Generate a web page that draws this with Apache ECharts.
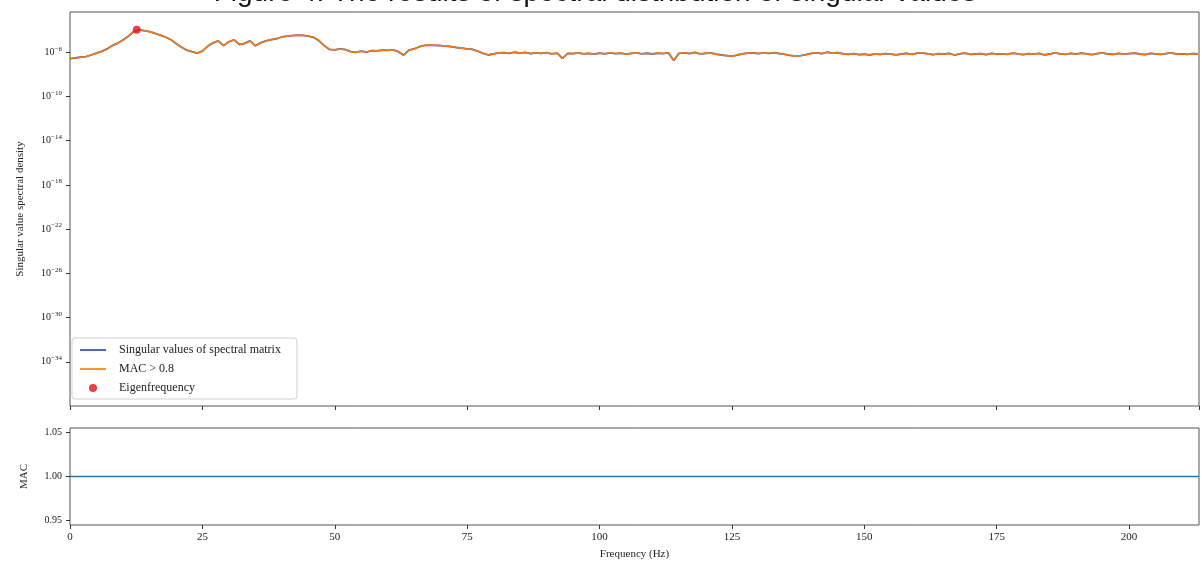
<!DOCTYPE html>
<html>
<head>
<meta charset="utf-8">
<script src="https://cdn.jsdelivr.net/npm/echarts@6/dist/echarts.min.js"></script>
<style>
  html, body { margin: 0; padding: 0; background: #fff; }
  #chart { width: 1202px; height: 566px; }
</style>
</head>
<body>
<div id="chart"></div>
<script>
// Frequency bins (Hz), 1 Hz spacing
const freqHz = [];
for (let f = 0; f <= 213; f++) freqHz.push(f);

// First singular value of the spectral matrix, as log10 exponents
const svLog10 = [
  -6.57, -6.52, -6.45, -6.39, -6.25, -6.08, -5.92, -5.70, -5.40, -5.18,
  -4.90, -4.55, -4.15, -3.98, -4.05, -4.14, -4.28, -4.45, -4.62, -4.85,
  -5.20, -5.52, -5.80, -5.95, -6.08, -5.90, -5.45, -5.15, -4.98, -5.40,
  -5.05, -4.88, -5.30, -5.20, -4.97, -5.42, -5.15, -4.98, -4.85, -4.78,
  -4.62, -4.55, -4.50, -4.45, -4.47, -4.55, -4.65, -4.95, -5.40, -5.75,
  -5.78, -5.70, -5.76, -5.95, -6.02, -5.90, -5.98, -5.85, -5.88, -5.80,
  -5.84, -5.79, -5.95, -6.27, -5.80, -5.70, -5.50, -5.38, -5.35, -5.37,
  -5.40, -5.45, -5.50, -5.57, -5.63, -5.70, -5.75, -5.90, -6.10, -6.25,
  -6.15, -6.05, -6.03, -6.10, -6.00, -6.08, -6.02, -6.12, -6.05, -6.10,
  -6.04, -6.15, -6.08, -6.55, -6.10, -6.12, -6.06, -6.15, -6.10, -6.18,
  -6.08, -6.14, -6.05, -6.12, -6.08, -6.18, -6.10, -6.06, -6.14, -6.09,
  -6.16, -6.08, -6.12, -6.05, -6.75, -6.10, -6.05, -6.12, -6.02, -6.15,
  -6.10, -6.06, -6.18, -6.25, -6.30, -6.38, -6.25, -6.15, -6.08, -6.05,
  -6.12, -6.06, -6.10, -6.04, -6.12, -6.20, -6.28, -6.35, -6.30, -6.22,
  -6.10, -6.05, -6.12, -6.00, -6.08, -6.03, -6.15, -6.20, -6.12, -6.22,
  -6.18, -6.25, -6.15, -6.20, -6.12, -6.18, -6.24, -6.16, -6.10, -6.20,
  -6.08, -6.05, -6.15, -6.22, -6.12, -6.18, -6.10, -6.25, -6.14, -6.08,
  -6.20, -6.16, -6.12, -6.22, -6.10, -6.18, -6.14, -6.20, -6.08, -6.15,
  -6.22, -6.12, -6.18, -6.10, -6.24, -6.16, -6.06, -6.14, -6.20, -6.10,
  -6.18, -6.08, -6.15, -6.22, -6.12, -6.06, -6.16, -6.20, -6.10, -6.18,
  -6.12, -6.08, -6.16, -6.22, -6.10, -6.14, -6.20, -6.12, -6.06, -6.18,
  -6.14, -6.20, -6.12, -6.15
];

// Picked eigenfrequency (Hz) and its spectral value exponent
const eigFreqHz = [12.6];
const eigLog10 = [-3.97];

// Modal assurance criterion along the frequency range
const macFreqHz = [0, 213.2];
const macValues = [1.0, 1.0];

// Axis ticks
const freqTicks = [0, 25, 50, 75, 100, 125, 150, 175, 200];
const densityExpTicks = [-34, -30, -26, -22, -18, -14, -10, -6];
const macTicks = [0.95, 1.00, 1.05];

const titleText = 'Figure 4: The results of spectral distribution of singular values';

// The density axis is logarithmic: values are placed by their decade exponent
const svData = freqHz.map((f, i) => [f, svLog10[i]]);
const eigData = eigFreqHz.map((f, i) => [f, eigLog10[i]]);
const macData = macFreqHz.map((f, i) => [f, macValues[i]]);

const serif = '"Liberation Serif", "DejaVu Serif", serif';
const axisColor = '#333';
const lineIcon = 'path://M0,0L30,0L30,2L0,2Z';

const chart = echarts.init(document.getElementById('chart'), null, { renderer: 'canvas' });

chart.setOption({
  animation: false,
  backgroundColor: '#fff',
  graphic: [{
    type: 'text',
    style: {
      x: 595, y: 7,
      text: titleText,
      align: 'center',
      verticalAlign: 'bottom',
      font: '28px "Liberation Sans", Arial, sans-serif',
      fill: '#111'
    },
    z: 100
  }],
  grid: [
    { left: 70, right: 3, top: 12, height: 394, show: true, borderColor: '#555', borderWidth: 1 },
    { left: 70, right: 3, top: 428, height: 97, show: true, borderColor: '#555', borderWidth: 1 }
  ],
  legend: {
    orient: 'vertical',
    left: 72,
    top: 338,
    itemWidth: 26,
    itemHeight: 8,
    itemGap: 7,
    padding: [6, 16, 5, 8],
    backgroundColor: '#fff',
    borderColor: '#d0d0d0',
    borderWidth: 1,
    borderRadius: 3,
    textStyle: { fontFamily: serif, fontSize: 12, color: '#222', padding: [0, 0, 0, 8] },
    data: [
      { name: 'Singular values of spectral matrix', icon: lineIcon },
      { name: 'MAC > 0.8', icon: lineIcon },
      { name: 'Eigenfrequency', icon: 'circle' }
    ]
  },
  xAxis: [
    {
      gridIndex: 0, type: 'value', min: 0, max: 213.2, interval: 25,
      axisLine: { show: false },
      axisTick: { show: true, inside: false, length: 4, lineStyle: { color: axisColor } },
      axisLabel: { show: false },
      splitLine: { show: false }
    },
    {
      gridIndex: 1, type: 'value', min: 0, max: 213.2, interval: 25,
      name: 'Frequency (Hz)', nameLocation: 'middle', nameGap: 24,
      nameTextStyle: { fontFamily: serif, fontSize: 11, color: '#222' },
      axisLine: { show: false },
      axisTick: { show: true, inside: false, length: 4, lineStyle: { color: axisColor }, customValues: freqTicks },
      axisLabel: { show: true, fontFamily: serif, fontSize: 11, color: '#222', margin: 7, customValues: freqTicks },
      splitLine: { show: false }
    }
  ],
  yAxis: [
    {
      gridIndex: 0, type: 'value', min: -38, max: -2.36,
      name: 'Singular value spectral density', nameLocation: 'middle', nameGap: 44,
      nameTextStyle: { fontFamily: serif, fontSize: 11, color: '#222' },
      axisLine: { show: false },
      axisTick: { show: true, inside: false, length: 4, lineStyle: { color: axisColor }, customValues: densityExpTicks },
      axisLabel: {
        show: true, margin: 8, customValues: densityExpTicks,
        fontFamily: serif, color: '#222',
        formatter: v => '{b|10}{s|\u2212' + Math.round(-v) + '}',
        rich: {
          b: { fontFamily: serif, fontSize: 10, color: '#222' },
          s: { fontFamily: serif, fontSize: 7, color: '#222', padding: [0, 0, 7, 0] }
        }
      },
      splitLine: { show: false }
    },
    {
      gridIndex: 1, type: 'value', min: 0.945, max: 1.055,
      name: 'MAC', nameLocation: 'middle', nameGap: 40,
      nameTextStyle: { fontFamily: serif, fontSize: 11, color: '#222' },
      axisLine: { show: false },
      axisTick: { show: true, inside: false, length: 4, lineStyle: { color: axisColor }, customValues: macTicks },
      axisLabel: {
        show: true, fontFamily: serif, fontSize: 10, color: '#222', margin: 8,
        customValues: macTicks, formatter: v => v.toFixed(2)
      },
      splitLine: { show: false }
    }
  ],
  series: [
    {
      name: 'Singular values of spectral matrix', type: 'line',
      xAxisIndex: 0, yAxisIndex: 0, data: svData,
      showSymbol: false, color: '#3853a4',
      lineStyle: { width: 1.8, color: '#3853a4' }, z: 2
    },
    {
      name: 'MAC > 0.8', type: 'line',
      xAxisIndex: 0, yAxisIndex: 0, data: svData,
      showSymbol: false, color: '#ff7f0e',
      lineStyle: { width: 1.6, color: '#ff7f0e', opacity: 0.92 }, z: 3
    },
    {
      name: 'Eigenfrequency', type: 'scatter',
      xAxisIndex: 0, yAxisIndex: 0, data: eigData,
      symbolSize: 8, color: '#e3101c',
      itemStyle: { color: '#e3101c' }, z: 5
    },
    {
      name: 'MAC', type: 'line',
      xAxisIndex: 1, yAxisIndex: 1, data: macData,
      showSymbol: false, color: '#1f77b4',
      lineStyle: { width: 1.5, color: '#1f77b4' }, z: 2
    }
  ]
});
</script>
</body>
</html>
